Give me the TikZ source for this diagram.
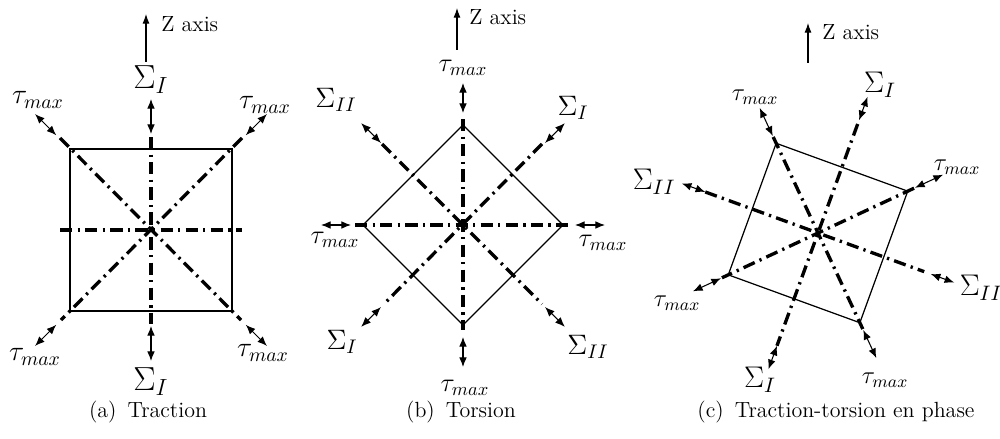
\RequirePackage{fix-cm}
\documentclass[tikz,border=0pt]{standalone}
\usepackage{tkz-euclide}
\usetikzlibrary{arrows.meta,calc}

\tikzset{
  side/.style={line width=0.7pt},
  axisline/.style={line width=1.9pt,dash pattern=on 7pt off 3pt on 1.3pt off 3pt},
  dblarrow/.style={line width=0.6pt,{Latex[length=5.5pt,width=4.4pt]}-{Latex[length=5.5pt,width=4.4pt]}},
  zarrow/.style={line width=0.6pt,-{Latex[length=5.5pt,width=4pt]}},
  zlabel/.style={anchor=west,inner sep=0pt,font=\fontsize{12.5}{15}\selectfont},
  sigA/.style={inner sep=0pt,font=\fontsize{19}{22}\selectfont},
  tauA/.style={inner sep=0pt,font=\fontsize{16}{19}\selectfont},
  sigB/.style={inner sep=0pt,font=\fontsize{16}{19}\selectfont},
  tauB/.style={inner sep=0pt,font=\fontsize{15}{18}\selectfont},
  sigC/.style={inner sep=0pt,font=\fontsize{17}{20}\selectfont},
  tauC/.style={inner sep=0pt,font=\fontsize{14}{17}\selectfont},
  subcap/.style={inner sep=0pt,font=\fontsize{12.5}{15}\selectfont}
}

\begin{document}
\begin{tikzpicture}[x=0.02cm,y=0.02cm]
\useasboundingbox (0,0) rectangle (1000,-439);

% (a) traction
\begin{scope}[shift={(151,-230)}]
\tkzDefPoints{0/0/Oa,-81/81/A1,81/81/B1,81/-81/C1,-81/-81/D1}
\draw[side] (A1) -- (B1) -- (C1) -- (D1) -- cycle;
\draw[axisline] (-91,0) -- (91,0);
\draw[axisline] (0,93) -- (0,-94);
\draw[axisline] (-91,92) -- (90,-90);
\draw[axisline] (91,92) -- (-90,-90);
\foreach \a in {90,270} \draw[dblarrow] (\a:96) -- (\a:131);
\foreach \a in {45,135,225,315} \draw[dblarrow] (\a:134) -- (\a:164);
\node[sigA] (sa1) at (0,150) {$\Sigma_I$};
\node[sigA] (sa2) at (0,-152) {$\Sigma_I$};
\node[tauA] (ta1) at (-113,130) {$\tau_{max}$};
\node[tauA] (ta2) at (114,125) {$\tau_{max}$};
\node[tauA] (ta3) at (-116,-127) {$\tau_{max}$};
\node[tauA] (ta4) at (112,-123) {$\tau_{max}$};
\coordinate (Za0) at (-5,168);
\coordinate (Za1) at (-5,216);
\draw[zarrow] (Za0) -- (Za1);
\node[zlabel] (za) at (10,206) {Z axis};
\node[subcap] (capa) at (-3,-182) {(a)\enspace Traction};
\end{scope}

% (b) torsion
\begin{scope}[shift={(463,-225)}]
\tkzDefPoints{0/0/Ob,0/100/A2,100/0/B2,0/-100/C2,-100/0/D2}
\draw[side] (A2) -- (B2) -- (C2) -- (D2) -- cycle;
\draw[axisline] (-108,0) -- (105,0);
\draw[axisline] (0,106) -- (0,-105);
\draw[axisline] (-81,81) -- (79,-79);
\draw[axisline] (79,81) -- (-79,-79);
\foreach \a in {0,90,180,270} \draw[dblarrow] (\a:112) -- (\a:142);
\foreach \a in {45,135,225,315} \draw[dblarrow] (\a:116) -- (\a:144);
\node[tauB] (tb1) at (0,157) {$\tau_{max}$};
\node[tauB] (tb2) at (2,-163) {$\tau_{max}$};
\node[tauB] (tb3) at (-128,-15) {$\tau_{max}$};
\node[tauB] (tb4) at (140,-18) {$\tau_{max}$};
\node[sigB] (sb1) at (-127,125) {$\Sigma_{II}$};
\node[sigB] (sb2) at (110,117) {$\Sigma_I$};
\node[sigB] (sb3) at (-121,-117) {$\Sigma_I$};
\node[sigB] (sb4) at (125,-122) {$\Sigma_{II}$};
\coordinate (Zb0) at (-6,175);
\coordinate (Zb1) at (-6,217);
\draw[zarrow] (Zb0) -- (Zb1);
\node[zlabel] (zb) at (6,208) {Z axis};
\node[subcap] (capb) at (-2,-187) {(b)\enspace Torsion};
\end{scope}

% (c) traction-torsion en phase
\begin{scope}[shift={(818,-233)}]
\tkzDefPoint(0,0){Oc}
\tkzDefPoint(115:99){A3}
\tkzDefPoint(25:99){B3}
\tkzDefPoint(295:99){C3}
\tkzDefPoint(205:99){D3}
\draw[side] (A3) -- (B3) -- (C3) -- (D3) -- cycle;
\draw[axisline] (70:116) -- (250:120);
\draw[axisline] (160:120) -- (340:113);
\draw[axisline] (25:106) -- (205:106);
\draw[axisline] (115:106) -- (295:106);
\foreach \a in {70,160,250,340} \draw[dblarrow] (\a:120) -- (\a:145);
\foreach \a in {25,115,205,295} \draw[dblarrow] (\a:107) -- (\a:138);
\node[sigC] (sc1) at (62,148) {$\Sigma_I$};
\node[sigC] (sc2) at (-58,-147) {$\Sigma_I$};
\node[sigC] (sc3) at (-164,51) {$\Sigma_{II}$};
\node[sigC] (sc4) at (163,-55) {$\Sigma_{II}$};
\node[tauC] (tc1) at (-63,136) {$\tau_{max}$};
\node[tauC] (tc2) at (139,66) {$\tau_{max}$};
\node[tauC] (tc3) at (-141,-70) {$\tau_{max}$};
\node[tauC] (tc4) at (67,-147) {$\tau_{max}$};
\coordinate (Zc0) at (-10,170);
\coordinate (Zc1) at (-10,210);
\draw[zarrow] (Zc0) -- (Zc1);
\node[zlabel] (zc) at (4,201) {Z axis};
\node[subcap] (capc) at (18,-179) {(c)\enspace Traction-torsion en phase};
\end{scope}
\end{tikzpicture}
\end{document}
